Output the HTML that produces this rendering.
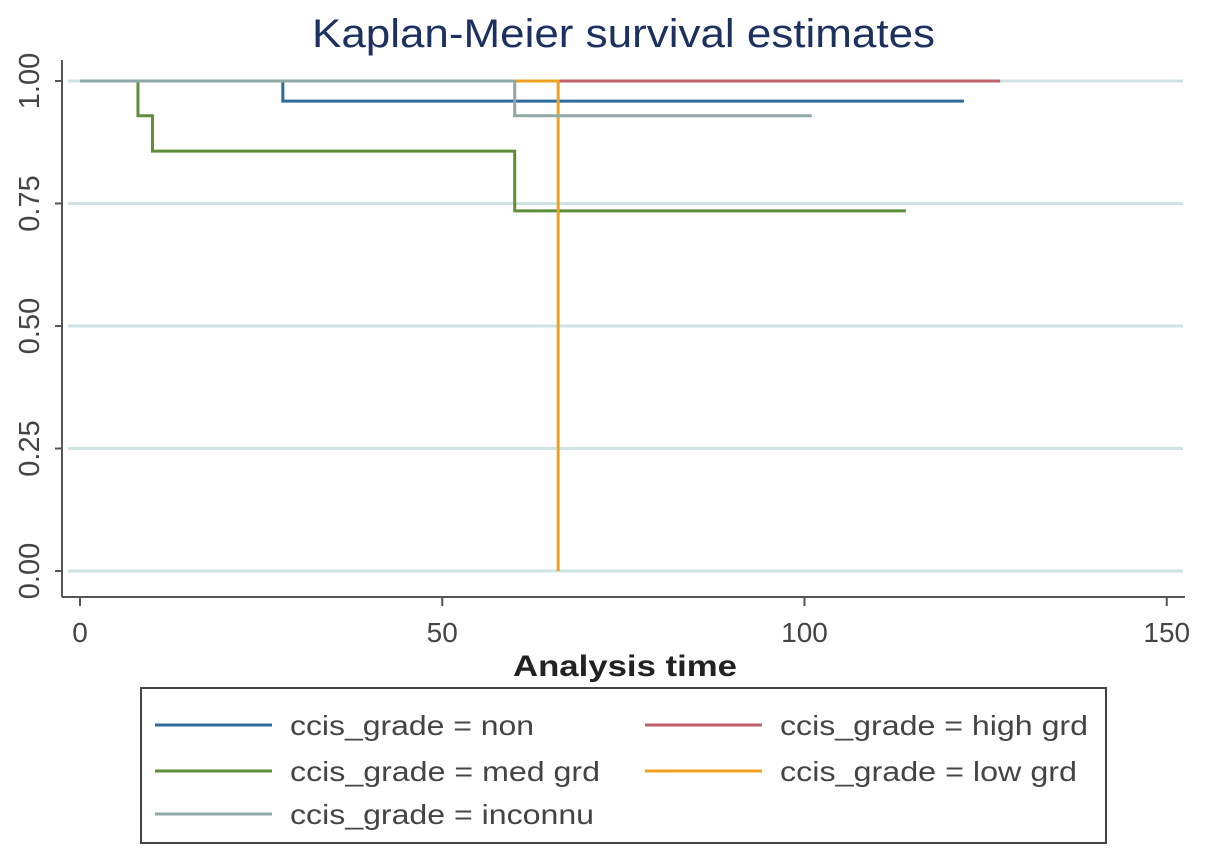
<!DOCTYPE html>
<html><head><meta charset="utf-8"><style>
body{margin:0;background:#fff}
text{font-family:"Liberation Sans",sans-serif}
</style></head><body>
<svg width="1205" height="859" viewBox="0 0 1205 859">
<text x="312" y="47" font-size="40" textLength="623" lengthAdjust="spacingAndGlyphs" fill="#1c3160">Kaplan-Meier survival estimates</text>
<g id="grid"></g>
<g id="axes"></g>
<g id="series"></g>
<text x="513" y="676" font-size="30" font-weight="bold" textLength="224" lengthAdjust="spacingAndGlyphs" fill="#222">Analysis time</text>
<rect x="141" y="688" width="965" height="155" fill="#fff" stroke="#444" stroke-width="2"/>
<g id="legend"></g>
</svg>
<script>
const xTicks=[0,50,100,150];
const yTicks=[0,0.25,0.5,0.75,1];
const yTickLabels=["0.00","0.25","0.50","0.75","1.00"];
const seriesNames=["ccis_grade = high grd","ccis_grade = non","ccis_grade = med grd","ccis_grade = low grd","ccis_grade = inconnu"];
const seriesColors=["#c0606a","#2d6a9a","#5f8d3a","#f0a020","#8fa8a6"];
const highTimes=[0,127],highSurv=[1];
const nonTimes=[0,28,122],nonSurv=[1,0.959];
const medTimes=[0,8,10,60,114],medSurv=[1,0.929,0.857,0.735];
const lowTimes=[0,66,66],lowSurv=[1,0];
const incTimes=[0,60,101],incSurv=[1,0.929];
const legLens=[308,244,310,297,304];
const X=t=>80+t*7.245, Y=v=>571-v*490;
const NS="http://www.w3.org/2000/svg";
function mk(tag,attrs,parent){const e=document.createElementNS(NS,tag);for(const k in attrs)e.setAttribute(k,attrs[k]);parent.appendChild(e);return e;}
const grid=document.getElementById('grid'),axes=document.getElementById('axes'),ser=document.getElementById('series'),leg=document.getElementById('legend');
yTicks.forEach((v,i)=>{
 const g=mk('line',{x1:68,x2:1183,y1:Y(v),y2:Y(v),stroke:'#cfe3e3','stroke-width':3},grid);
 
 
 mk('line',{x1:55,x2:62,y1:Y(v),y2:Y(v),stroke:'#555','stroke-width':2},axes);
 const t=mk('text',{x:0,y:0,'font-size':29,fill:'#444','text-anchor':'middle',transform:`translate(39,${Y(v)}) rotate(-90)`},axes);
 t.textContent=yTickLabels[i];
 
 
});
mk('line',{x1:62,x2:62,y1:60,y2:597,stroke:'#555','stroke-width':2},axes);
mk('line',{x1:62,x2:1185,y1:597,y2:597,stroke:'#555','stroke-width':2},axes);
xTicks.forEach(v=>{
 mk('line',{x1:X(v),x2:X(v),y1:597,y2:606,stroke:'#555','stroke-width':2},axes);
 const t=mk('text',{x:X(v),y:642,'font-size':28,fill:'#444','text-anchor':'middle'},axes);
 t.textContent=v;
 
 
});
function stepPath(times,surv){
 let d=`M${X(times[0])},${Y(surv[0])}`;
 for(let i=1;i<times.length;i++){
  d+=` H${X(times[i])}`;
  if(i<surv.length) d+=` V${Y(surv[i])}`;
 }
 return d;
}
const all=[[highTimes,highSurv],[nonTimes,nonSurv],[medTimes,medSurv],[lowTimes,lowSurv],[incTimes,incSurv]];
const slugs=['high-grd','non','med-grd','low-grd','inconnu'];
all.forEach((s,i)=>{
 const p=mk('path',{d:stepPath(s[0],s[1]),fill:'none',stroke:seriesColors[i],'stroke-width':3},ser);
 
 
});
const legPos=[[645,725],[155,725],[155,771],[645,771],[155,814]];
seriesNames.forEach((n,i)=>{
 const [x,y]=legPos[i];
 mk('line',{x1:x,x2:x+117,y1:y,y2:y,stroke:seriesColors[i],'stroke-width':3},leg);
 const t=mk('text',{x:x+135,y:y+10,'font-size':28,fill:'#444',textLength:legLens[i],lengthAdjust:'spacingAndGlyphs'},leg);
 t.textContent=n;
 
 
});
</script>
</body></html>
